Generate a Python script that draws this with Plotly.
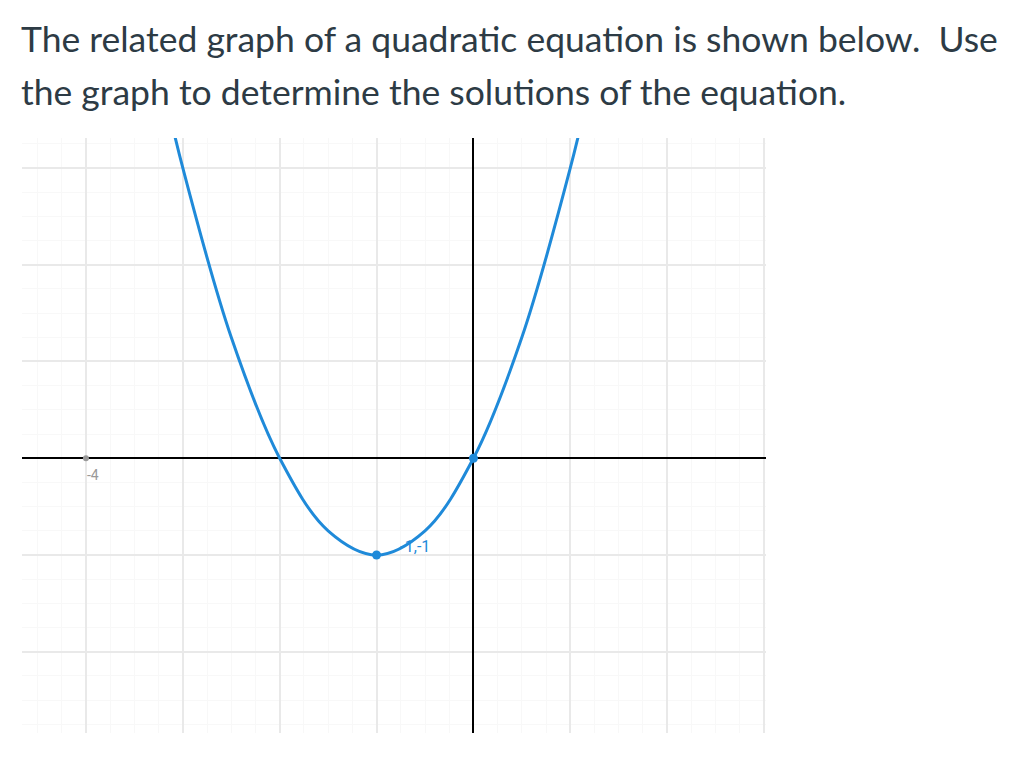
import plotly.graph_objs as go

curve_x = [-3.2, -3.0, -2.5, -2.0, -1.5, -1.0, -0.5, 0.0, 0.5, 1.0, 1.2]
curve_y = [3.84, 3.0, 1.25, 0.0, -0.75, -1.0, -0.75, 0.0, 1.25, 3.0, 3.84]

# marked points
point_x = [-1, 0]
point_y = [-1, 0]
vertex_label = "-1,-1"

tick_x = -4
tick_label = "-4"

title_lines = [
    "The related graph of a quadratic equation is shown below.\u00a0 Use",
    "the graph to determine the solutions of the equation.",
]

blue = "#1f8ad9"
text_col = "#2d3b45"

fig = go.Figure()
# label first so the curve runs over its leading minus sign
fig.add_trace(go.Scatter(x=[point_x[0] + 0.4], y=[point_y[0] + 0.07],
                         mode="text", text=[vertex_label],
                         textposition="middle center",
                         textfont=dict(family="Roboto, Arial", size=16,
                                       color=blue),
                         hoverinfo="skip"))
fig.add_trace(go.Scatter(x=curve_x, y=curve_y, mode="lines",
                         line=dict(color=blue, width=3, shape="spline"),
                         hoverinfo="skip"))
fig.add_trace(go.Scatter(x=point_x, y=point_y, mode="markers",
                         marker=dict(color=blue, size=9)))
fig.add_trace(go.Scatter(x=[tick_x], y=[0], mode="markers",
                         marker=dict(color="#999999", size=6)))

fig.add_annotation(x=tick_x, y=0, text=tick_label, showarrow=False,
                   xshift=7, yshift=-17,
                   font=dict(family="Roboto, Arial", size=14, color="#999999"))

for i, line in enumerate(title_lines):
    fig.add_annotation(xref="paper", yref="paper", x=0, y=[1.167, 1.078][i],
                       xanchor="left", yanchor="middle", showarrow=False,
                       xshift=-3, text=line,
                       font=dict(family="Lato", size=35.5, color=text_col))

axis_style = dict(showticklabels=False, ticks="", showline=False,
                  showgrid=True, gridcolor="#e9e9e9", gridwidth=2, dtick=1,
                  zeroline=True, zerolinecolor="#000000", zerolinewidth=2,
                  minor=dict(dtick=0.25, showgrid=True, gridcolor="#f8f8f8",
                             gridwidth=1))

fig.update_layout(
    width=1008, height=752,
    margin=dict(l=14, r=250, t=130, b=27),
    paper_bgcolor="white", plot_bgcolor="white",
    showlegend=False,
    xaxis=dict(range=[-4.66, 3.02], **axis_style),
    yaxis=dict(range=[-2.84, 3.31], **axis_style),
)

fig.write_html("out.html")
